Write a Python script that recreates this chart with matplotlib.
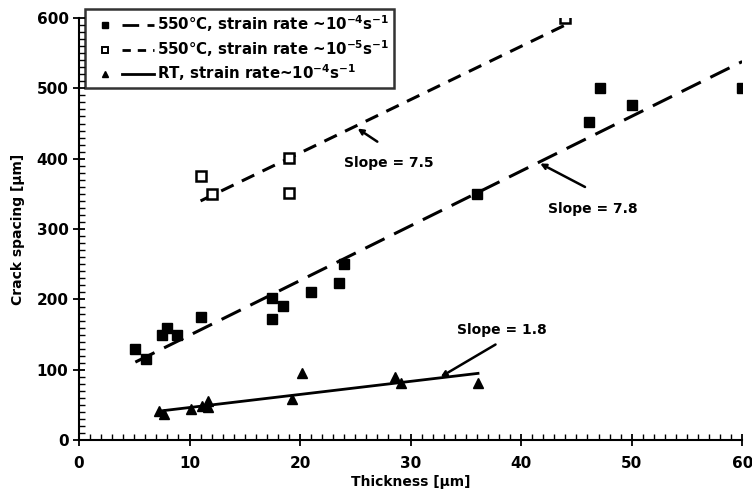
import matplotlib
matplotlib.use("Agg")
import matplotlib.pyplot as plt
from matplotlib.legend_handler import HandlerTuple
from matplotlib.lines import Line2D
from matplotlib.ticker import MultipleLocator

plt.rcParams['font.family'] = ['DejaVu Sans']
plt.rcParams['font.weight'] = 'bold'

# 550 C, strain rate ~1e-4 /s (filled squares)
x_hot4 = [5.1, 6.1, 7.5, 8.0, 8.9, 11.0, 17.5, 17.5, 18.5, 21.0, 23.5, 24.0, 36.0, 46.1, 47.1, 50.0, 60.0]
y_hot4 = [129, 115, 149, 159, 149, 175, 202, 172, 191, 210, 223, 250, 350, 452, 500, 477, 500]
fit_hot4_x = [5.1, 60.0]
fit_hot4_y = [111, 538]

# 550 C, strain rate ~1e-5 /s (open squares)
x_hot5 = [11.0, 12.0, 19.0, 19.0, 44.0]
y_hot5 = [375, 350, 401, 351, 600]
fit_hot5_x = [11.0, 44.0]
fit_hot5_y = [340, 590]

# room temperature, strain rate ~1e-4 /s (triangles)
x_rt = [7.2, 7.7, 10.1, 11.1, 11.7, 11.7, 19.3, 20.2, 28.6, 29.1, 36.1]
y_rt = [41, 37, 45, 48, 56, 47, 58, 96, 90, 82, 81]
fit_rt_x = [7.6, 36.1]
fit_rt_y = [42, 95]

slope_labels = ['Slope = 7.5', 'Slope = 7.8', 'Slope = 1.8']
slope_text_xy = [(24.0, 394), (42.4, 328), (34.2, 156)]
slope_start_xy = [(27.2, 422), (46.0, 358), (37.9, 138)]
slope_end_xy = [(25.0, 445), (41.5, 395), (32.5, 88)]

fig = plt.figure(figsize=(7.52, 4.98), dpi=100)
ax = fig.add_axes([0.105, 0.116, 0.882, 0.848])

ax.plot(x_hot4, y_hot4, 's', color='black', ms=7.5, zorder=3)
ax.plot(fit_hot4_x, fit_hot4_y, color='black', lw=2.2, dashes=(7, 3.5))
ax.plot(x_hot5, y_hot5, 's', mfc='white', mec='black', mew=1.8, ms=7.5, zorder=3)
ax.plot(fit_hot5_x, fit_hot5_y, color='black', lw=2.2, dashes=(4.5, 3))
ax.plot(x_rt, y_rt, '^', color='black', ms=7.5, zorder=3)
ax.plot(fit_rt_x, fit_rt_y, color='black', lw=2.0)

for lab, txy, sxy, exy in zip(slope_labels, slope_text_xy, slope_start_xy, slope_end_xy):
    ax.text(txy[0], txy[1], lab, fontsize=10, fontweight='bold', va='center', ha='left')
    ax.annotate('', xy=exy, xytext=sxy,
                arrowprops=dict(arrowstyle='->', color='black', lw=1.8,
                                mutation_scale=8))

ax.set_xlim(0, 60)
ax.set_ylim(0, 600)
ax.xaxis.set_major_locator(MultipleLocator(10))
ax.xaxis.set_minor_locator(MultipleLocator(1))
ax.yaxis.set_major_locator(MultipleLocator(100))
ax.yaxis.set_minor_locator(MultipleLocator(10))
ax.spines['top'].set_visible(False)
ax.spines['right'].set_visible(False)
ax.spines['left'].set_linewidth(1.5)
ax.spines['bottom'].set_linewidth(1.5)
ax.tick_params(which='major', direction='inout', length=8, width=1.3, labelsize=11)
ax.tick_params(axis='x', which='major', pad=7)
ax.tick_params(which='minor', direction='in', length=4, width=1.0)
for lbl in ax.get_xticklabels() + ax.get_yticklabels():
    lbl.set_fontweight('bold')

ax.set_xlabel('Thickness [µm]', fontsize=10, fontweight='bold', labelpad=3)
ax.set_ylabel('Crack spacing [µm]', fontsize=10, fontweight='bold', labelpad=8)

h1 = (Line2D([], [], marker='s', color='black', ls='none', ms=5),
      Line2D([], [], color='black', lw=2, dashes=(6, 3)))
h2 = (Line2D([], [], marker='s', mfc='white', mec='black', mew=1.4, ls='none', ms=5),
      Line2D([], [], color='black', lw=2, dashes=(3, 2.5)))
h3 = (Line2D([], [], marker='^', color='black', ls='none', ms=5),
      Line2D([], [], color='black', lw=2))
labels = ['550°C, strain rate ~10$^{\\mathbf{-4}}$s$^{\\mathbf{-1}}$',
          '550°C, strain rate ~10$^{\\mathbf{-5}}$s$^{\\mathbf{-1}}$',
          'RT, strain rate~10$^{\\mathbf{-4}}$s$^{\\mathbf{-1}}$']
leg = ax.legend([h1, h2, h3], labels,
                handler_map={tuple: HandlerTuple(ndivide=None, pad=0.1)},
                loc='upper left', bbox_to_anchor=(0.0, 1.035), handlelength=4.3,
                handletextpad=0.2, fontsize=10.8, frameon=True, fancybox=False,
                edgecolor='black', borderpad=0.3, labelspacing=0.25,
                borderaxespad=0.4)
leg.get_frame().set_linewidth(1.8)
for t in leg.get_texts():
    t.set_fontweight('bold')

fig.savefig('out.png', dpi=100)
